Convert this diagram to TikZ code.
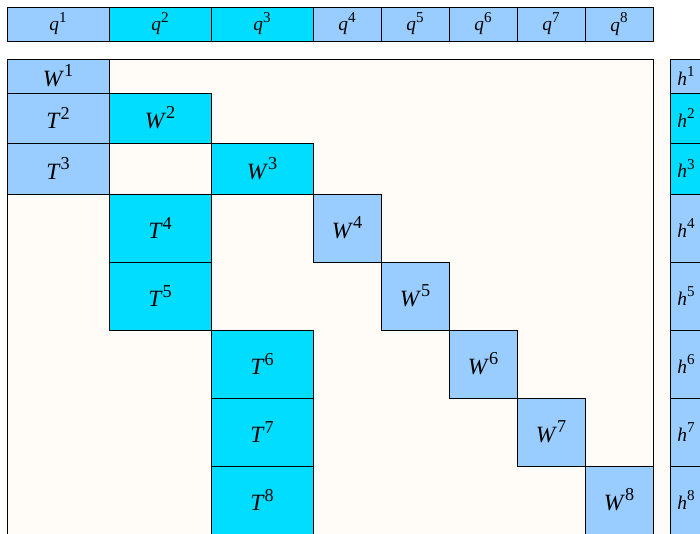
\documentclass[tikz,border=0pt]{standalone}
\usepackage{fontspec}
\setmainfont{Liberation Serif}
\usetikzlibrary{positioning}
\definecolor{CellBlue}{RGB}{153,204,255}
\definecolor{CellCyan}{RGB}{0,221,255}
\definecolor{PaneCream}{RGB}{255,252,248}
\newcommand{\idx}[2]{\textit{#1}\raisebox{0.42em}{\scalebox{0.78}{#2}}}
\tikzset{
  cell/.style={draw=black,line width=0.75pt,inner sep=0pt,outer sep=0pt,anchor=north west},
  smalltxt/.style={font=\fontsize{14.5}{16}\selectfont},
  bigtxt/.style={font=\fontsize{17.5}{19}\selectfont}
}
\begin{document}
\begin{tikzpicture}[x=0.75pt,y=-0.75pt]
\useasboundingbox (0,0) rectangle (700,533);
\clip (0,0) rectangle (700,533);
\fill[white] (0,0) rectangle (700,533);
% query row
\foreach \n/\x/\w/\c in {1/7/102/CellBlue,2/109/102/CellCyan,3/211/102/CellCyan,
  4/313/68/CellBlue,5/381/68/CellBlue,6/449/68/CellBlue,7/517/68/CellBlue,8/585/68/CellBlue}{
  \node[cell,smalltxt,fill=\c,minimum width=\w*0.75pt,minimum height=34*0.75pt](q\n)at(\x,7){\idx{q}{\n}};
}
% matrix pane
\fill[PaneCream](653,59)rectangle(670,560);
\draw[line width=0.75pt,fill=PaneCream](7,59)rectangle(653,560);
% blocks
\foreach \v/\k/\x/\y/\w/\h/\c in {
  W/1/7/59/102/34/CellBlue,
  T/2/7/93/102/50/CellBlue,
  T/3/7/143/102/51/CellBlue,
  W/2/109/93/102/50/CellCyan,
  W/3/211/143/102/51/CellCyan,
  T/4/109/194/102/68/CellCyan,
  T/5/109/262/102/68/CellCyan,
  W/4/313/194/68/68/CellBlue,
  W/5/381/262/68/68/CellBlue,
  T/6/211/330/102/68/CellCyan,
  W/6/449/330/68/68/CellBlue,
  T/7/211/398/102/68/CellCyan,
  W/7/517/398/68/68/CellBlue,
  T/8/211/466/102/68/CellCyan,
  W/8/585/466/68/68/CellBlue}{
  \node[cell,bigtxt,fill=\c,minimum width=\w*0.75pt,minimum height=\h*0.75pt](\v\k)at(\x,\y){\idx{\v}{\k}};
}
% output column
\foreach \n/\y/\h/\c in {1/59/34/CellBlue,2/93/50/CellCyan,3/143/51/CellCyan,4/194/68/CellBlue,
  5/262/68/CellBlue,6/330/68/CellBlue,7/398/68/CellBlue,8/466/68/CellBlue}{
  \node[cell,smalltxt,fill=\c,minimum width=32*0.75pt,minimum height=\h*0.75pt](h\n)at(670,\y){\idx{h}{\n}};
}
\end{tikzpicture}
\end{document}
